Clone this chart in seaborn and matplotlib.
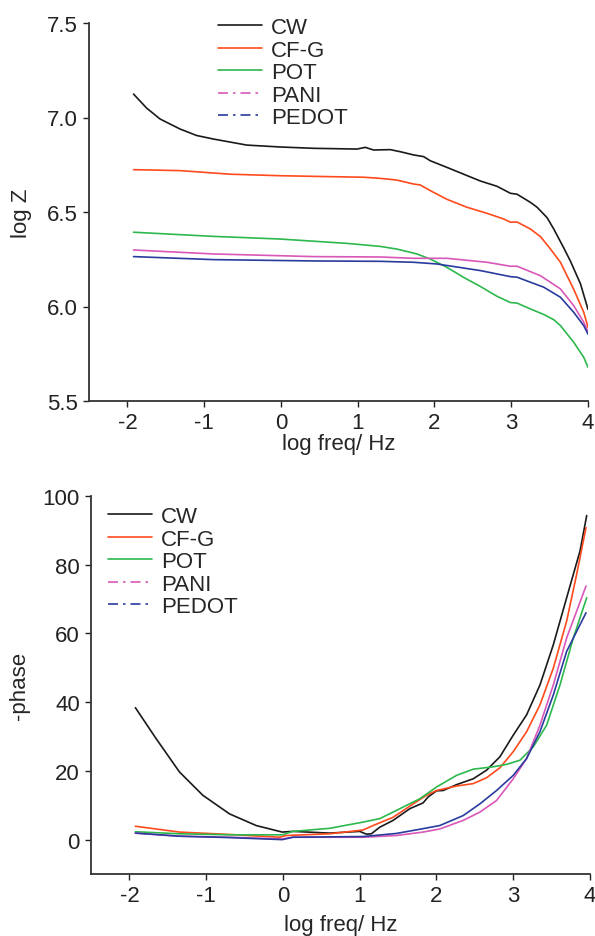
import numpy as np
import pandas as pd
import matplotlib
matplotlib.use("Agg")
import matplotlib.pyplot as plt
from matplotlib.lines import Line2D
import seaborn as sns

sns.set_theme(style="ticks")
plt.rcParams["font.family"] = ["Liberation Sans", "DejaVu Sans"]

series = ["CW", "CF-G", "POT", "PANI", "PEDOT"]
colors = {"CW": "#1a1a1a", "CF-G": "#ff4a1c", "POT": "#2db84d",
          "PANI": "#d957b8", "PEDOT": "#2a3b9e"}

# ---- top panel: log Z vs log freq ----
cw_z_x = [-1.92, -1.75, -1.574, -1.314, -1.1, -0.879, -0.444, -0.01, 0.424, 0.99, 1.098,
          1.207, 1.424, 1.555, 1.728, 1.859, 1.946, 2.163, 2.38, 2.598, 2.815, 2.989, 3.076,
          3.25, 3.337, 3.467, 3.554, 3.684, 3.771, 3.902, 4.0]
cw_z_y = [7.124, 7.05, 6.992, 6.939, 6.905, 6.886, 6.854, 6.844, 6.837, 6.833, 6.842,
          6.828, 6.830, 6.819, 6.802, 6.793, 6.771, 6.736, 6.700, 6.664, 6.636, 6.599, 6.594,
          6.551, 6.525, 6.47, 6.41, 6.31, 6.24, 6.12, 5.985]

cfg_z_x = [-1.92, -1.314, -0.662, -0.01, 0.641, 1.076, 1.293, 1.51, 1.728, 1.815, 1.946,
           2.163, 2.424, 2.685, 2.902, 2.989, 3.076, 3.25, 3.38, 3.5, 3.641, 3.815,
           3.945, 4.0]
cfg_z_y = [6.724, 6.719, 6.700, 6.692, 6.687, 6.684, 6.678, 6.669, 6.648, 6.643, 6.613,
           6.567, 6.525, 6.493, 6.463, 6.446, 6.447, 6.410, 6.37, 6.31, 6.234, 6.09,
           5.969, 5.89]

pot_z_x = [-1.92, -0.879, -0.01, 0.859, 1.293, 1.51, 1.772, 1.946, 2.163, 2.38, 2.598,
           2.815, 2.989, 3.076, 3.25, 3.423, 3.554, 3.641, 3.815, 3.945, 4.0]
pot_z_y = [6.393, 6.371, 6.357, 6.334, 6.318, 6.304, 6.278, 6.251, 6.207, 6.154, 6.106,
           6.054, 6.021, 6.018, 5.987, 5.958, 5.93, 5.899, 5.81, 5.731, 5.678]

pani_z_x = [-1.92, -0.879, 0.424, 1.294, 1.728, 2.163, 2.685, 2.989, 3.076, 3.38, 3.641,
            3.815, 3.945, 4.0]
pani_z_y = [6.299, 6.278, 6.264, 6.262, 6.255, 6.255, 6.234, 6.213, 6.213, 6.163, 6.093,
            6.004, 5.916, 5.867]

pedot_z_x = [-1.92, -0.879, 0.424, 1.294, 1.728, 2.033, 2.598, 2.989, 3.076, 3.424, 3.641,
             3.815, 3.945, 4.0]
pedot_z_y = [6.264, 6.248, 6.241, 6.239, 6.234, 6.225, 6.19, 6.158, 6.155, 6.102, 6.049,
             5.969, 5.898, 5.854]

# ---- bottom panel: -phase vs log freq ----
cw_p_x = [-1.922, -1.652, -1.348, -1.043, -0.696, -0.348, -0.009, 0.13, 0.609, 1.0, 1.087,
          1.152, 1.26, 1.435, 1.652, 1.826, 1.891, 2.0, 2.087, 2.261, 2.478, 2.652, 2.826,
          3.0, 3.174, 3.348, 3.522, 3.696, 3.87, 3.957]
cw_p_y = [38.4, 29.4, 19.7, 12.9, 7.5, 4.1, 2.2, 2.4, 1.9, 2.4, 1.6, 1.7, 3.6, 5.6, 9.0,
          10.7, 12.4, 14.2, 14.3, 16.0, 17.7, 20.2, 24.1, 30.4, 36.3, 45.0, 56.7, 70.4, 84.0,
          94.3]

cfg_p_x = [-1.922, -1.348, -0.696, -0.043, 0.04, 0.609, 1.043, 1.174, 1.435, 1.696, 1.87,
           2.0, 2.261, 2.478, 2.652, 2.826, 3.0, 3.174, 3.348, 3.522, 3.696, 3.826, 3.948]
cfg_p_y = [3.9, 2.2, 1.5, 0.7, 1.2, 1.7, 2.8, 4.1, 6.5, 10.4, 12.9, 14.3, 15.6, 16.3, 18.0,
           20.9, 25.6, 31.4, 39.2, 49.9, 63.6, 77.2, 90.8]

pot_p_x = [-1.922, -1.348, -0.696, -0.009, 0.13, 0.609, 1.043, 1.26, 1.478, 1.783, 2.0,
           2.261, 2.478, 2.739, 2.913, 3.087, 3.261, 3.435, 3.609, 3.783, 3.957]
pot_p_y = [2.3, 1.7, 1.4, 1.4, 2.4, 3.3, 5.1, 6.1, 8.5, 11.9, 15.3, 18.7, 20.5, 21.2, 21.9,
           23.1, 27.0, 33.3, 45.0, 58.7, 70.4]

pani_p_x = [-1.922, -1.348, -0.696, -0.009, 0.13, 1.043, 1.478, 1.826, 2.043, 2.348, 2.565,
            2.783, 3.0, 3.174, 3.348, 3.522, 3.696, 3.948]
pani_p_y = [1.9, 1.0, 0.7, 0.2, 0.7, 0.7, 1.2, 2.2, 3.1, 5.6, 8.0, 11.4, 17.7, 23.6, 33.3,
            45.0, 58.7, 73.8]

pedot_p_x = [-1.922, -1.348, -0.696, -0.009, 0.13, 1.043, 1.478, 1.826, 2.043, 2.348, 2.565,
             2.783, 3.0, 3.174, 3.348, 3.522, 3.696, 3.948]
pedot_p_y = [1.9, 1.0, 0.6, 0.0, 0.7, 0.9, 1.8, 3.2, 4.1, 7.0, 10.4, 14.3, 18.7, 23.6, 31.4,
             42.1, 54.8, 66.0]

x_ticks = [-2, -1, 0, 1, 2, 3, 4]
z_ticks = [5.5, 6.0, 6.5, 7.0, 7.5]
p_ticks = [0, 20, 40, 60, 80, 100]

z_data = {"CW": (cw_z_x, cw_z_y), "CF-G": (cfg_z_x, cfg_z_y), "POT": (pot_z_x, pot_z_y),
          "PANI": (pani_z_x, pani_z_y), "PEDOT": (pedot_z_x, pedot_z_y)}
p_data = {"CW": (cw_p_x, cw_p_y), "CF-G": (cfg_p_x, cfg_p_y), "POT": (pot_p_x, pot_p_y),
          "PANI": (pani_p_x, pani_p_y), "PEDOT": (pedot_p_x, pedot_p_y)}

FS = 16
fig = plt.figure(figsize=(5.95, 9.37), dpi=100)
ax1 = fig.add_axes([89 / 595, 1 - 402 / 937, (588 - 89) / 595, (402 - 24) / 937])
ax2 = fig.add_axes([91 / 595, 1 - 875 / 937, (590 - 91) / 595, (875 - 497) / 937])


def long_df(d):
    rows = []
    for s in series:
        xs, ys = d[s]
        for x, y in zip(xs, ys):
            rows.append((s, x, y))
    return pd.DataFrame(rows, columns=["series", "x", "y"])


for ax, d in ((ax1, z_data), (ax2, p_data)):
    df = long_df(d)
    for s in series:
        sub = df[df["series"] == s]
        sns.lineplot(data=sub, x="x", y="y", color=colors[s], lw=1.2, ax=ax,
                     sort=False, estimator=None, legend=False)

for ax in (ax1, ax2):
    sns.despine(ax=ax)
    ax.set_xlim(-2.5, 4.0)
    ax.set_xticks(x_ticks)
    ax.set_xticklabels([str(v) for v in x_ticks])
    ax.tick_params(direction="out", length=4, width=1.0, labelsize=FS, colors="#222222",
                   pad=4)
    for sp in ("left", "bottom"):
        ax.spines[sp].set_linewidth(1.3)
        ax.spines[sp].set_color("#333333")

ax1.set_xlabel("log freq/ Hz", fontsize=FS, labelpad=0)
ax2.set_xlabel("log freq/ Hz", fontsize=FS, labelpad=6)

ax1.set_ylim(5.5, 7.5)
ax1.set_yticks(z_ticks)
ax1.set_yticklabels([f"{v:.1f}" for v in z_ticks])
ax1.set_ylabel("log Z", fontsize=FS, labelpad=11)

ax2.set_ylim(-10, 100)
ax2.set_yticks(p_ticks)
ax2.set_yticklabels([str(v) for v in p_ticks])
ax2.set_ylabel("-phase", fontsize=FS, labelpad=9)


def handles():
    h = []
    for s in series:
        if s in ("PANI", "PEDOT"):
            h.append(Line2D([], [], color=colors[s], lw=1.2, linestyle=(0, (6, 3, 1.5, 3))))
        else:
            h.append(Line2D([], [], color=colors[s], lw=1.2))
    return h


for ax, anchor in ((ax1, (218 / 595, 1 - 18 / 937)), (ax2, (108 / 595, 1 - 507 / 937))):
    ax.legend(handles(), series, loc="upper left", bbox_to_anchor=anchor,
              bbox_transform=fig.transFigure, frameon=False, fontsize=FS,
              handlelength=2.0, handletextpad=0.4, labelspacing=0.07,
              borderpad=0, borderaxespad=0)

fig.savefig("out.png", dpi=100)
